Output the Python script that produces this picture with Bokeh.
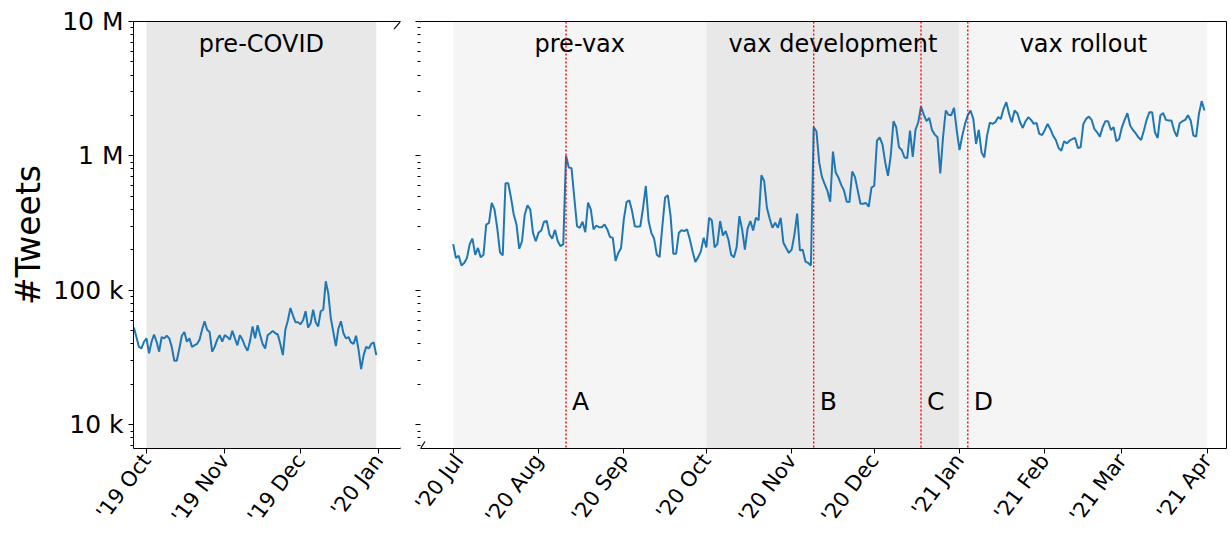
import math
import pandas as pd
from bokeh.plotting import figure
from bokeh.models import (ColumnDataSource, Range1d, FixedTicker, DatetimeTickFormatter,
                          LinearAxis, BoxAnnotation, Span, Arrow)
from bokeh.layouts import row
from bokeh.core.properties import value
from bokeh.embed import file_html
from bokeh.resources import INLINE

# ---------------- data ----------------
pre_covid_start = "2019-09-26"
# daily tweets, thousands (2019-09-26 .. 2019-12-31)
pre_covid_k = [53, 45, 38, 37, 41.5, 44, 34, 41.5, 47, 41.5,
               35, 45, 44, 46, 44, 38, 30, 30, 37, 46,
               49, 41.5, 44, 38, 39, 40, 43, 51, 59, 51,
               49, 35, 38, 43, 46.5, 41.5, 46.5, 45, 43, 50,
               44, 39, 46.5, 43, 38.5, 35.5, 42, 54, 44, 55,
               46.5, 40, 37, 46.5, 48, 50, 48, 47, 40, 33,
               51, 60, 74, 65, 58, 58, 56, 60, 70, 53,
               57, 72, 58, 54, 70, 72, 117, 95, 62, 49,
               38.5, 52, 59, 48, 44, 45, 41, 40, 46, 36,
               26, 33, 38, 37, 40, 41, 33]

covid_start = "2020-07-01"
# daily tweets, thousands (2020-07-01 .. 2021-03-31)
covid_k = [221, 174, 181, 153, 160, 174, 221, 243, 184, 207,
           176, 184, 309, 318, 447, 400, 292, 192, 182, 627,
           627, 490, 367, 309, 204, 232, 367, 429, 400, 268,
           232, 268, 279, 324, 328, 260, 243, 282, 232, 213,
           221, 1003, 821, 812, 490, 300, 292, 324, 271, 449,
           400, 284, 304, 295, 295, 309, 284, 249, 246, 166,
           190, 207, 337, 454, 468, 389, 300, 297, 300, 412,
           598, 328, 268, 243, 184, 177, 300, 490, 510, 357,
           187, 187, 268, 280, 276, 284, 239, 195, 163, 176,
           195, 246, 209, 347, 331, 209, 221, 328, 256, 276,
           239, 184, 176, 209, 357, 284, 201, 289, 328, 279,
           347, 333, 719, 652, 412, 343, 292, 318, 292, 347,
           226, 207, 190, 201, 260, 372, 198, 201, 164, 160,
           153, 1634, 1527, 895, 699, 616, 549, 457, 1076, 753,
           691, 609, 555, 457, 454, 766, 699, 555, 441, 441,
           447, 419, 582, 598, 1299, 1376, 1213, 895, 711, 1004,
           1813, 1634, 1159, 1107, 975, 964, 1544, 986, 1561, 1782,
           2334, 2033, 1813, 1920, 1561, 1441, 1376, 740, 1376, 2178,
           2025, 2010, 2281, 1544, 1107, 1416, 1731, 2010, 2178, 1887,
           1227, 1561, 1063, 975, 1416, 1770, 1731, 1782, 1942, 1887,
           2242, 2514, 2057, 1782, 2178, 2081, 1782, 1615, 1813, 1942,
           1855, 1731, 1761, 1458, 1433, 1561, 1731, 1588, 1416, 1315,
           1146, 1094, 1285, 1241, 1299, 1337, 1361, 1146, 1159, 1731,
           1887, 1965, 1855, 1588, 1500, 1392, 1634, 1813, 1813, 1561,
           1634, 1285, 1337, 1634, 1855, 2081, 1682, 1561, 1475, 1376,
           1315, 1544, 1855, 2116, 2116, 1500, 1361, 2010, 2081, 1855,
           1834, 1834, 1544, 1392, 1752, 1813, 1855, 2010, 1834, 1416,
           1392, 2057, 2558, 2178]

period_names = ["pre-COVID", "pre-vax", "vax development", "vax rollout"]
period_starts = ["2019-10-01", "2020-07-01", "2020-10-01", "2021-01-01"]
period_ends = ["2019-12-31", "2020-10-01", "2021-01-01", "2021-04-01"]

event_names = ["A", "B", "C", "D"]
event_dates = ["2020-08-11", "2020-11-09", "2020-12-18", "2021-01-04"]

y_ticks = [1e4, 1e5, 1e6, 1e7]
y_tick_labels = ["10 k", "100 k", "1 M", "10 M"]

left_months = ["2019-10-01", "2019-11-01", "2019-12-01", "2020-01-01"]
right_months = ["2020-07-01", "2020-08-01", "2020-09-01", "2020-10-01", "2020-11-01",
                "2020-12-01", "2021-01-01", "2021-02-01", "2021-03-01", "2021-04-01"]

# ---------------- styling ----------------
FONT = "DejaVu Sans"
LINE_COLOR = "#1f77b4"
DARK = "#e8e8e8"
LIGHT = "#f5f5f5"
period_fill = [DARK, LIGHT, DARK, LIGHT]
H = 537
TOP = 21
Y_RANGE = (6.67e3, 1e7)
DAY = 86400000.0
PX_DECADE = 133.8
REGION_LABEL_Y = 6.8e6
EVENT_LABEL_Y = 1.5e4


def ms(d):
    return pd.Timestamp(d).value / 1e6


minor = [m * 10 ** e for e in range(3, 7) for m in range(2, 10)]


def blank_axis():
    return LinearAxis(ticker=FixedTicker(ticks=[]), major_tick_out=0, major_tick_in=0,
                      minor_tick_out=0, minor_tick_in=0, major_label_standoff=0,
                      axis_line_color="black", axis_line_width=1)


def make_fig(width, x0, x1, mbl, mbr, months):
    p = figure(width=width, height=H, x_axis_type="datetime", y_axis_type="log",
               x_range=Range1d(x0, x1), y_range=Range1d(*Y_RANGE),
               output_backend="svg", toolbar_location=None,
               min_border_left=mbl, min_border_right=mbr,
               min_border_top=TOP, min_border_bottom=0)
    p.outline_line_color = None
    p.xgrid.visible = False
    p.ygrid.visible = False
    p.background_fill_color = "white"
    p.border_fill_color = "white"
    xa = p.below[0]
    xa.ticker = FixedTicker(ticks=[ms(m) for m in months])
    xa.formatter = DatetimeTickFormatter(days="'%y %b", months="'%y %b", years="'%y %b")
    xa.major_label_orientation = math.radians(53)
    xa.major_label_text_font = FONT
    xa.major_label_text_font_size = "21px"
    xa.major_label_text_color = "black"
    xa.major_tick_out = 5
    xa.major_tick_in = 0
    xa.minor_tick_out = 0
    xa.minor_tick_in = 0
    xa.major_label_standoff = 3
    xa.axis_line_color = "black"
    xa.major_tick_line_color = "black"
    ya = p.left[0]
    ya.ticker = FixedTicker(ticks=y_ticks, minor_ticks=minor)
    ya.major_tick_out = 5
    ya.major_tick_in = 0
    ya.minor_tick_out = 3
    ya.minor_tick_in = 0
    ya.major_tick_line_color = "black"
    ya.minor_tick_line_color = "black"
    p.add_layout(blank_axis(), "above")
    return p, xa, ya


def add_periods(p, idx):
    for i in idx:
        p.add_layout(BoxAnnotation(left=ms(period_starts[i]), right=ms(period_ends[i]),
                                   fill_color=period_fill[i], fill_alpha=1.0,
                                   line_color=None, level="underlay"))
    mids = [(ms(period_starts[i]) + ms(period_ends[i])) / 2 for i in idx]
    src = ColumnDataSource(dict(x=mids, y=[REGION_LABEL_Y] * len(idx),
                                t=[period_names[i] for i in idx]))
    p.text(x="x", y="y", text="t", source=src, text_align="center", text_baseline="alphabetic",
           text_font=value(FONT), text_font_size="24px", text_color="black")


# ---------------- left panel ----------------
L_PX_DAY = 2.525
lx0 = ms("2019-09-26") - 0.15 * DAY
lx1 = lx0 + 267 / L_PX_DAY * DAY
left, lxa, lya = make_fig(410, lx0, lx1, 133, 10, left_months)
lya.major_label_overrides = dict(zip(y_ticks, y_tick_labels))
lya.major_label_text_font = FONT
lya.major_label_text_font_size = "25px"
lya.major_label_text_color = "black"
lya.major_label_standoff = 5
lya.axis_label = "#Tweets"
lya.axis_label_text_font = FONT
lya.axis_label_text_font_size = "33px"
lya.axis_label_text_font_style = "normal"
lya.axis_label_text_color = "black"
lya.axis_label_standoff = 2
lya.axis_line_color = "black"
add_periods(left, [0])

ldates = pd.date_range(pre_covid_start, periods=len(pre_covid_k), freq="D")
left.line(x=ldates, y=[v * 1000 for v in pre_covid_k], line_color=LINE_COLOR, line_width=2)

# ---------------- right panel ----------------
R_PX_DAY = 2.7518
rx0 = ms("2020-07-01") - 32.7 / R_PX_DAY * DAY
rx1 = rx0 + 806 / R_PX_DAY * DAY
right, rxa, rya = make_fig(821, rx0, rx1, 10, 5, right_months)
rya.major_label_overrides = {t: "" for t in y_ticks}
rya.major_label_standoff = 0
rya.axis_line_color = None
right.add_layout(blank_axis(), "right")
add_periods(right, [1, 2, 3])

for d in event_dates:
    right.add_layout(Span(location=ms(d), dimension="height", line_color="red",
                          line_dash="2 2", line_width=1.4))
esrc = ColumnDataSource(dict(x=[ms(d) for d in event_dates], y=[EVENT_LABEL_Y] * 4, t=event_names))
right.text(x="x", y="y", text="t", source=esrc, x_offset=6, text_align="left",
           text_baseline="alphabetic", text_font=value(FONT), text_font_size="25px",
           text_color="black")

rdates = pd.date_range(covid_start, periods=len(covid_k), freq="D")
right.line(x=rdates, y=[v * 1000 for v in covid_k], line_color=LINE_COLOR, line_width=2)

# ---------------- broken-axis marks (corner diagonals) ----------------
for p, xe, dxp, dyp, pxd in ((left, lx1, 6.5, 7.5, L_PX_DAY), (right, rx0, 4.5, 7.0, R_PX_DAY)):
    fy = 10 ** (dyp / PX_DECADE)
    dx = dxp / pxd * DAY
    for yv in Y_RANGE:
        p.add_layout(Arrow(end=None, x_start=xe - dx, y_start=yv / fy, x_end=xe + dx,
                           y_end=yv * fy, line_color="black", line_width=1.2))

layout = row(left, right)
open("out.html", "w").write(file_html(layout, INLINE))
